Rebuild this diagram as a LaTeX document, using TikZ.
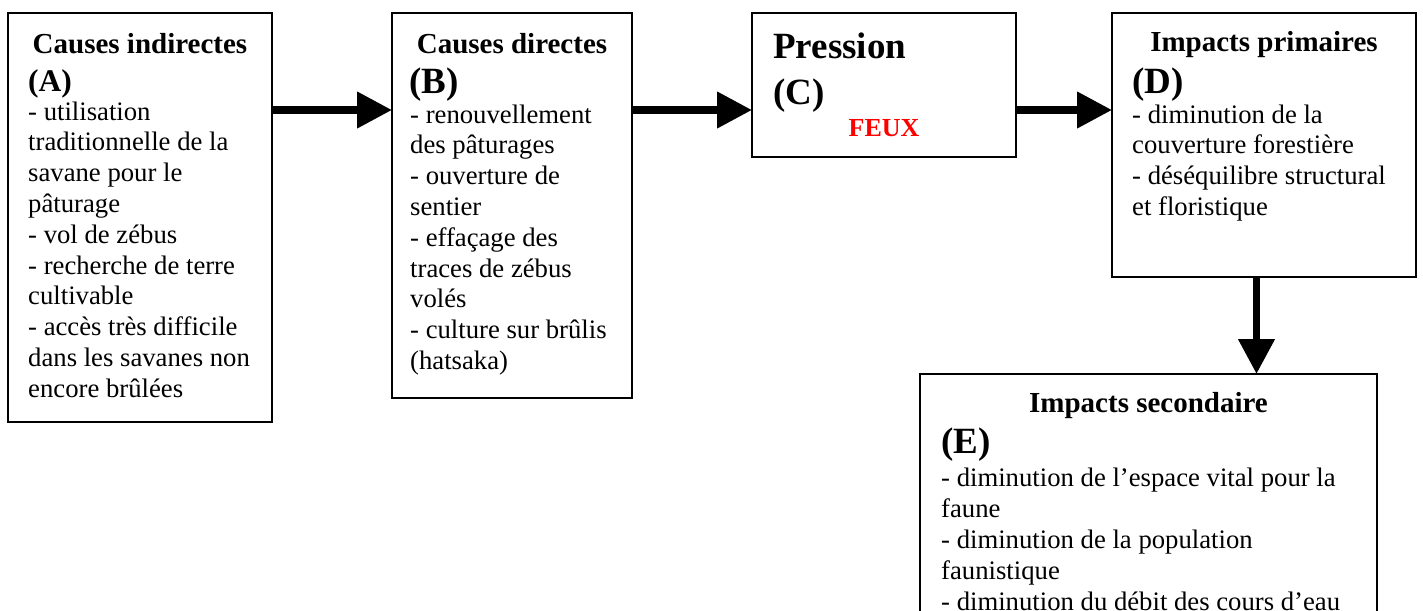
\documentclass[tikz,border=0pt]{standalone}
\usepackage{fontspec}
\setmainfont{Liberation Serif}
\usetikzlibrary{arrows.meta}
\begin{document}
\begin{tikzpicture}[x=1pt,y=-1pt,
  box/.style={draw=black, line width=2pt, inner sep=0pt, outer sep=0pt, anchor=north west},
  bodytxt/.style={anchor=base west, inner sep=0pt, font=\fontsize{26.7}{30.8}\selectfont},
  headtxt/.style={anchor=base, inner sep=0pt, font=\fontsize{29}{33}\selectfont\bfseries},
  bigtxt/.style={anchor=base west, inner sep=0pt, font=\fontsize{37}{42}\selectfont\bfseries},
  midtxt/.style={anchor=base west, inner sep=0pt, font=\fontsize{31.5}{36}\selectfont\bfseries},
  firetxt/.style={anchor=base, inner sep=0pt, text=red, font=\fontsize{26}{30}\selectfont\bfseries},
  bigarrow/.style={line width=7.5pt, -{Triangle[length=35pt,width=35pt]}}]
\useasboundingbox (0,0) rectangle (1423,610);
\clip (0,0) rectangle (1423,610);

% boxes
\node[box, minimum width=264pt, minimum height=409pt] (A) at (8,13) {};
\node[box, minimum width=240pt, minimum height=385pt] (B) at (392,13) {};
\node[box, minimum width=264pt, minimum height=144pt] (C) at (752,13) {};
\node[box, minimum width=304pt, minimum height=264pt] (D) at (1112,13) {};
\node[box, minimum width=457pt, minimum height=300pt] (E) at (920,374) {};

% connectors
\coordinate (ay) at (0,110);
\coordinate (ax) at (1256.5,0);
\draw[bigarrow] (A.east |- ay) -- (B.west |- ay);
\draw[bigarrow] (B.east |- ay) -- (C.west |- ay);
\draw[bigarrow] (C.east |- ay) -- (D.west |- ay);
\draw[bigarrow] (D.south -| ax) -- (E.north -| ax);

% box A
\node[headtxt] (Ah) at (140,53) {Causes indirectes};
\node[midtxt] (Al) at (28,91) {(A)};
\foreach \t [count=\i from 0] in {- utilisation, traditionnelle de la, savane pour le, pâturage, - vol de zébus, - recherche de terre, cultivable, - accès très difficile, dans les savanes non, encore brûlées}
  \node[bodytxt] (A-\i) at ({28},{120+30.8*\i}) {\t};

% box B
\node[headtxt] (Bh) at (512,53) {Causes directes};
\node[bigtxt] (Bl) at (409,93) {(B)};
\foreach \t [count=\i from 0] in {- renouvellement, des pâturages, - ouverture de, sentier, - effaçage des, traces de zébus, volés, - culture sur brûlis, (hatsaka)}
  \node[bodytxt] (B-\i) at ({410},{123+30.8*\i}) {\t};

% box C
\node[bigtxt] (Ch) at (773,59) {Pression};
\node[bigtxt] (Cl) at (773,104) {(C)};
\node[firetxt] (Cf) at (884,136) {FEUX};

% box D
\node[headtxt] (Dh) at (1264,52) {Impacts primaires};
\node[bigtxt] (Dl) at (1132,93) {(D)};
\foreach \t [count=\i from 0] in {- diminution de la, couverture forestière, - déséquilibre structural, et floristique}
  \node[bodytxt] (D-\i) at ({1132},{123+30.8*\i}) {\t};

% box E
\node[headtxt] (Eh) at (1148.5,412) {Impacts secondaire};
\node[bigtxt] (El) at (941,453) {(E)};
\foreach \t [count=\i from 0] in {- diminution de l’espace vital pour la, faune, - diminution de la population, faunistique, - diminution du débit des cours d’eau}
  \node[bodytxt] (E-\i) at ({941},{486+31*\i}) {\t};
\end{tikzpicture}
\end{document}
